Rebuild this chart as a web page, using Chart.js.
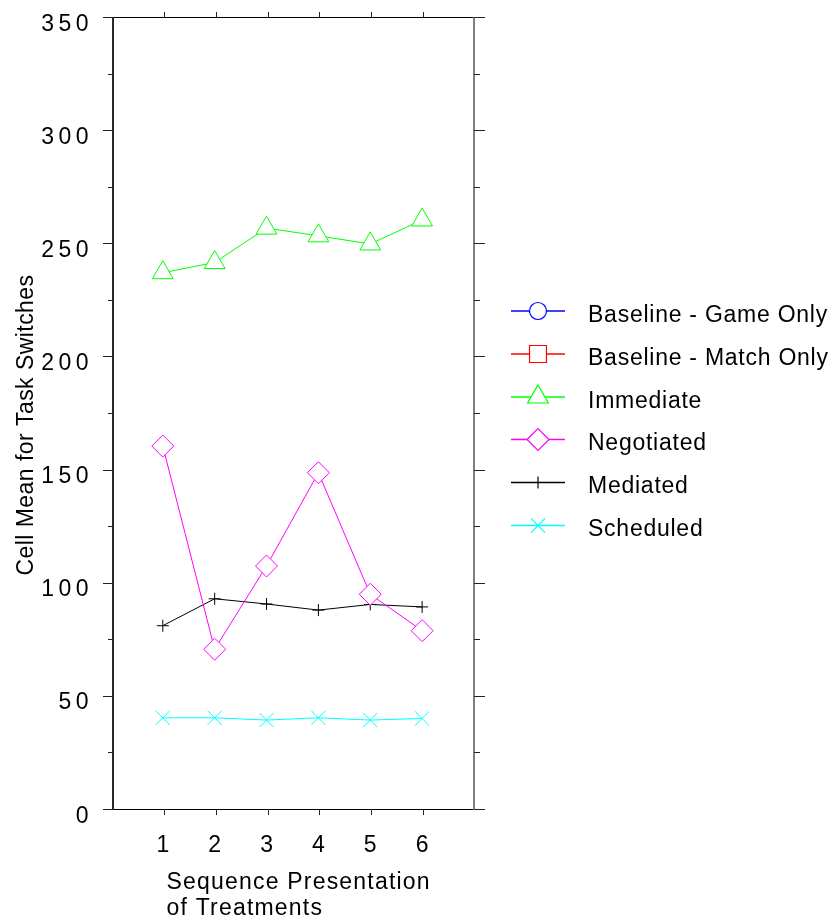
<!DOCTYPE html>
<html lang="en">
<head>
    <meta charset="UTF-8">
    <title>Cell Mean for Task Switches</title>
    <script src="https://cdn.jsdelivr.net/npm/chart.js"></script>
    <style>
        body { margin: 0; background: #fff; }
    </style>
</head>
<body>
    <canvas id="grafico" width="835" height="920"></canvas>

    <script>
        // data
        const sequence = [1, 2, 3, 4, 5, 6]
        const seriesNames = ["Baseline - Game Only", "Baseline - Match Only", "Immediate", "Negotiated", "Mediated", "Scheduled"]
        const gameOnly = []
        const matchOnly = []
        const immediate = [237, 241.5, 256.7, 253.3, 249.7, 260.3]
        const negotiated = [160.4, 70.6, 107.4, 148.6, 94.9, 78.8]
        const mediated = [81, 92.9, 90.6, 87.9, 90.4, 89.3]
        const scheduled = [40.3, 40.3, 39.3, 40.3, 39.3, 40]
        const yTicks = [0, 50, 100, 150, 200, 250, 300, 350]
        const yMinorTicks = [25, 75, 125, 175, 225, 275, 325]

        const fonte = "'Liberation Sans', Arial, sans-serif"

        const estilos = [
          { color: '#0000ff', pointStyle: 'circle', radius: 8.5 },
          { color: '#ff0000', pointStyle: 'rect', radius: 12 },
          { color: '#00ff00', pointStyle: 'triangle', radius: 12 },
          { color: '#ff00ff', pointStyle: 'rectRot', radius: 11 },
          { color: '#000000', pointStyle: 'cross', radius: 6 },
          { color: '#00ffff', pointStyle: 'crossRot', radius: 10 }
        ]

        const series = [gameOnly, matchOnly, immediate, negotiated, mediated, scheduled]

        const datasets = series.map((valores, i) => ({
          label: seriesNames[i],
          data: valores.map((v, j) => ({ x: sequence[j], y: v })),
          borderColor: estilos[i].color,
          borderWidth: 1,
          pointStyle: estilos[i].pointStyle,
          pointRadius: estilos[i].radius,
          pointBorderColor: estilos[i].color,
          pointBackgroundColor: '#ffffff',
          pointBorderWidth: 1,
          tension: 0
        }))

        // frame, tick marks, y labels, titles and legend
        const molduraPlugin = {
          id: 'moldura',
          beforeDatasetsDraw(chart) {
            const ctx = chart.ctx
            const a = chart.chartArea
            const x = chart.scales.x
            const y = chart.scales.y
            ctx.save()
            ctx.lineWidth = 1
            ctx.strokeStyle = '#000'
            ctx.beginPath()
            ctx.moveTo(a.left, a.top + 0.5); ctx.lineTo(a.right, a.top + 0.5)
            ctx.moveTo(a.left, a.bottom + 0.5); ctx.lineTo(a.right, a.bottom + 0.5)
            ctx.stroke()

            ctx.lineWidth = 2
            ctx.strokeStyle = '#2a2a2a'
            ctx.beginPath(); ctx.moveTo(a.left, a.top); ctx.lineTo(a.left, a.bottom + 1); ctx.stroke()
            ctx.strokeStyle = '#808080'
            ctx.beginPath(); ctx.moveTo(a.right, a.top); ctx.lineTo(a.right, a.bottom + 1); ctx.stroke()

            ctx.lineWidth = 1
            ctx.strokeStyle = '#222'
            ctx.beginPath()
            yTicks.forEach(v => {
              const py = Math.round(y.getPixelForValue(v)) + 0.5
              ctx.moveTo(a.left - 10, py); ctx.lineTo(a.left, py)
              ctx.moveTo(a.right, py); ctx.lineTo(a.right + 11, py)
            })
            yMinorTicks.forEach(v => {
              const py = Math.round(y.getPixelForValue(v)) + 0.5
              ctx.moveTo(a.left - 5, py); ctx.lineTo(a.left, py)
              ctx.moveTo(a.right, py); ctx.lineTo(a.right + 6, py)
            })
            sequence.forEach(v => {
              const px = Math.round(x.getPixelForValue(v)) + 1.5
              ctx.moveTo(px, a.top - 5); ctx.lineTo(px, a.top)
              ctx.moveTo(px, a.bottom); ctx.lineTo(px, a.bottom + 6)
            })
            ctx.stroke()
            ctx.restore()
          },
          afterDraw(chart) {
            const ctx = chart.ctx
            const y = chart.scales.y
            ctx.save()
            ctx.fillStyle = '#000'
            ctx.font = '23px ' + fonte

            // y tick labels
            ctx.letterSpacing = '4.5px'
            ctx.textAlign = 'right'
            ctx.textBaseline = 'alphabetic'
            yTicks.forEach(v => {
              ctx.fillText(String(v), 93, y.getPixelForValue(v) + 13.5)
            })

            // x title
            ctx.letterSpacing = '1.2px'
            ctx.textAlign = 'left'
            ctx.fillText('Sequence Presentation', 166.5, 888.5)
            ctx.fillText('of Treatments', 166.5, 914.5)

            // y title
            ctx.letterSpacing = '0.45px'
            ctx.save()
            ctx.translate(33, 425)
            ctx.rotate(-Math.PI / 2)
            ctx.textAlign = 'center'
            ctx.fillText('Cell Mean for Task Switches', 0, 0)
            ctx.restore()

            // legend: line with the marker on it, then the name
            const legendaY = [310, 353, 396, 438.5, 481.5, 524.5]
            seriesNames.forEach((nome, i) => {
              const ly = legendaY[i]
              ctx.strokeStyle = estilos[i].color
              ctx.lineWidth = 1.3
              ctx.beginPath()
              ctx.moveTo(511, ly + 1)
              ctx.lineTo(565, ly + 1)
              ctx.stroke()
              ctx.fillStyle = '#ffffff'
              ctx.lineWidth = 1.2
              Chart.helpers.drawPoint(ctx, {
                pointStyle: estilos[i].pointStyle,
                radius: estilos[i].radius,
                rotation: 0,
                borderWidth: 1
              }, 538, ly + 1)
              ctx.fillStyle = '#000'
              ctx.letterSpacing = '0.75px'
              ctx.textAlign = 'left'
              ctx.fillText(nome, 588, ly + 11.5)
            })
            ctx.restore()
          }
        }

        const grafico = new Chart(document.getElementById('grafico'), {
          type: 'line',
          data: { datasets: datasets },
          options: {
            responsive: false,
            animation: false,
            layout: { padding: { left: 0, top: 17, right: 361, bottom: 0 } },
            plugins: {
              legend: { display: false },
              tooltip: { enabled: false }
            },
            scales: {
              x: {
                type: 'linear',
                min: 0.04,
                max: 7,
                grid: { display: false, drawTicks: false },
                border: { display: false },
                afterBuildTicks: s => { s.ticks = sequence.map(v => ({ value: v })) },
                afterFit: s => { s.height = 111 },
                ticks: {
                  autoSkip: false,
                  maxRotation: 0,
                  padding: 23,
                  color: '#000',
                  font: { family: fonte, size: 23 }
                }
              },
              y: {
                type: 'linear',
                min: 0,
                max: 350,
                grid: { display: false, drawTicks: false },
                border: { display: false },
                afterBuildTicks: s => { s.ticks = yTicks.map(v => ({ value: v })) },
                afterFit: s => { s.width = 113 },
                ticks: { display: false }
              }
            }
          },
          plugins: [molduraPlugin]
        });
    </script>
</body>
</html>
